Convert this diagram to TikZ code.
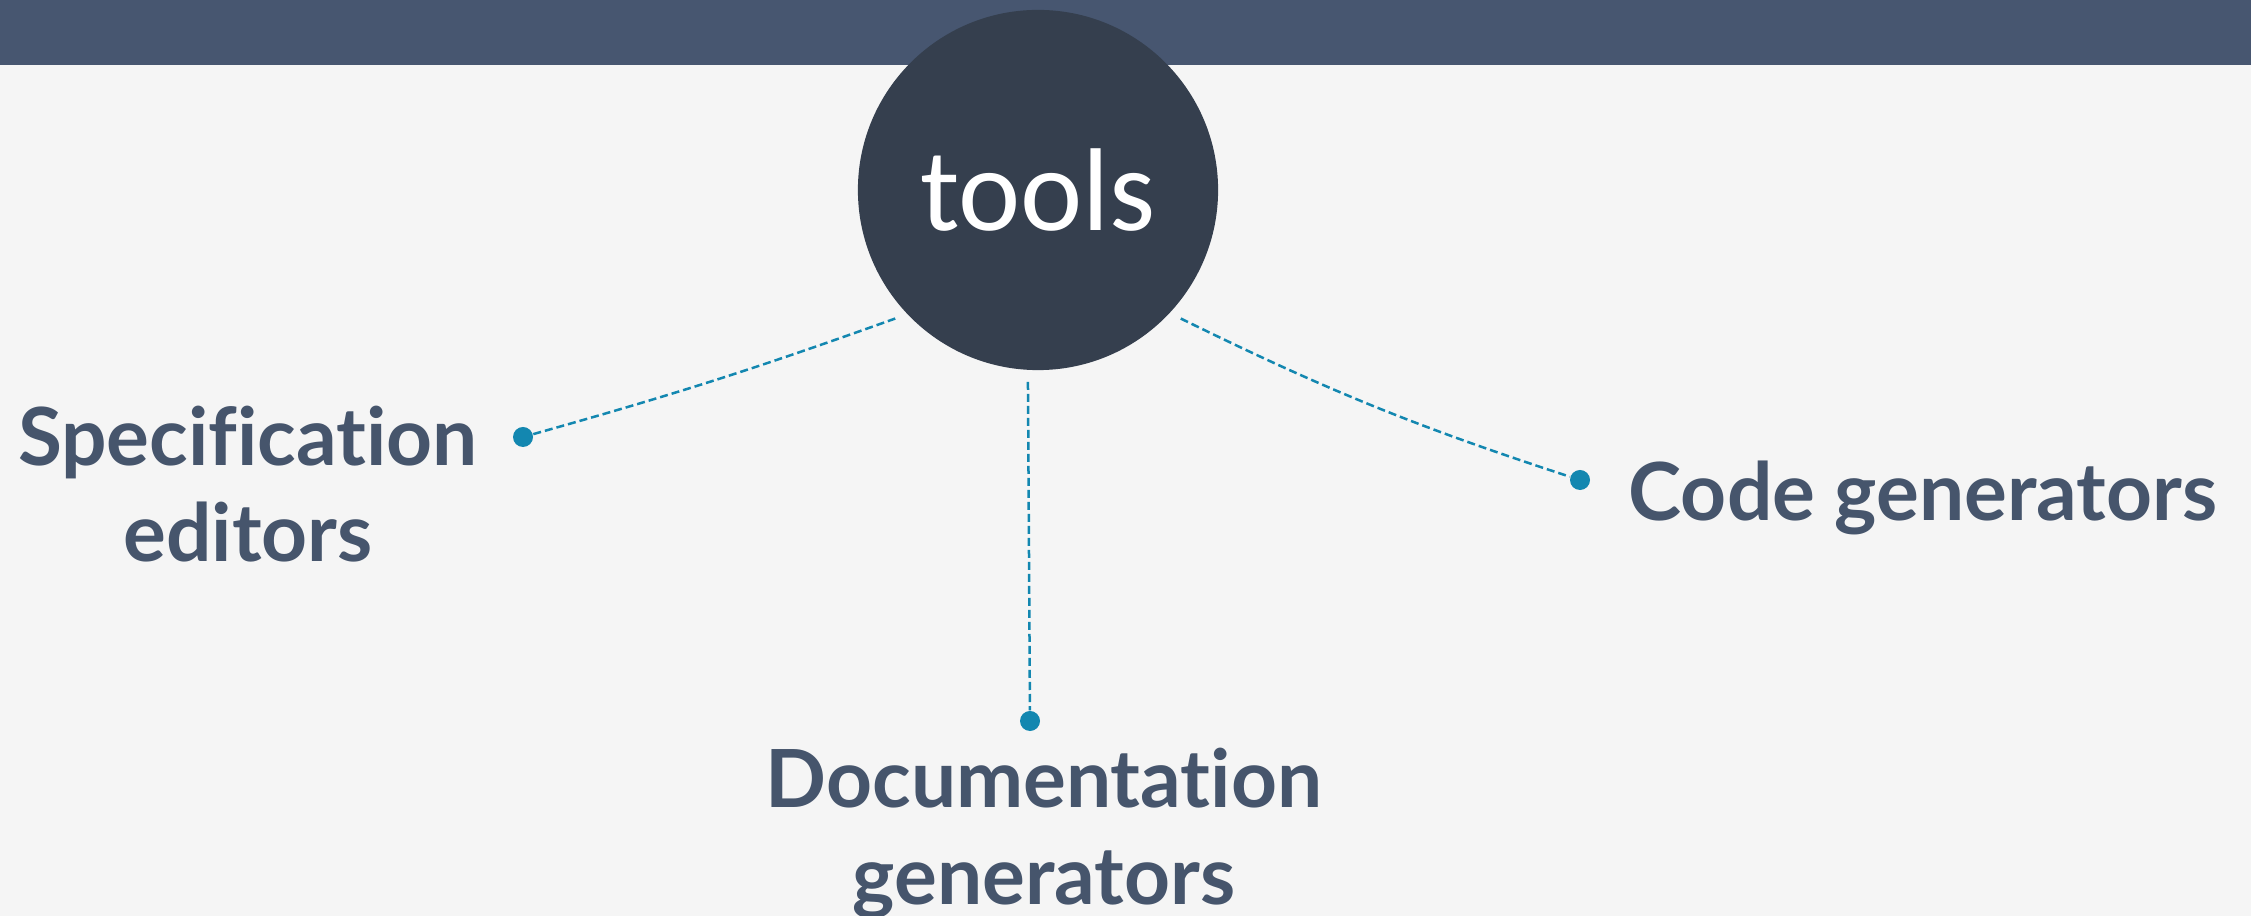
\documentclass[tikz,border=0pt]{standalone}
\usepackage{fontspec}
\setmainfont{Lato}[Ligatures=NoCommon]
\newfontfamily\hubfont{Carlito}
\usetikzlibrary{positioning, calc}
\definecolor{bandBg}{RGB}{71, 86, 112}
\definecolor{pageBg}{RGB}{245, 245, 245}
\definecolor{hubBg}{RGB}{53, 63, 78}
\definecolor{textFg}{RGB}{70, 85, 108}
\definecolor{linkFg}{RGB}{19, 135, 176}
\tikzstyle{link} = [draw=linkFg, line width=0.025cm, dash pattern=on 0.08cm off 0.04cm]
\tikzstyle{enddot} = [circle, fill=linkFg, inner sep=0, minimum size=0.2cm]
\tikzstyle{hub} = [circle, fill=hubBg, text=white, inner sep=0, minimum size=3.6cm, outer sep=0.12cm, font=\hubfont\fontsize{33.5}{40}\selectfont]
\tikzstyle{tooltext} = [text=textFg, align=center, inner sep=0, font=\bfseries\fontsize{22.8}{27.3}\selectfont]
\begin{document}
\begin{tikzpicture}[x=0.01cm, y=-0.01cm]

\fill [pageBg] (0,0) rectangle (2251,916);
\useasboundingbox (0,0) rectangle (2251,916);
\fill [bandBg] (0,0) rectangle (2251,65);

\node (tools) [hub] at (1038,190) {tools};

\node (specdot) [enddot] at (523,437) {};
\node (docdot) [enddot] at (1030,721) {};
\node (codedot) [enddot] at (1580,480) {};

\draw [link] (specdot) to[bend right=2] (tools.222.7);
\draw [link] (tools.267) -- (docdot);
\draw [link] (tools.318) to[bend right=4] (codedot);

% anchor=base sits on the last line
\node (spec) [tooltext, anchor=base] at (248,562) {Specification\\editors};
\node (code) [tooltext, anchor=base] at (1923,521) {Code generators};
\node (doc) [tooltext, anchor=base] at (1044,904) {Documentation\\generators};

\end{tikzpicture}
\end{document}
